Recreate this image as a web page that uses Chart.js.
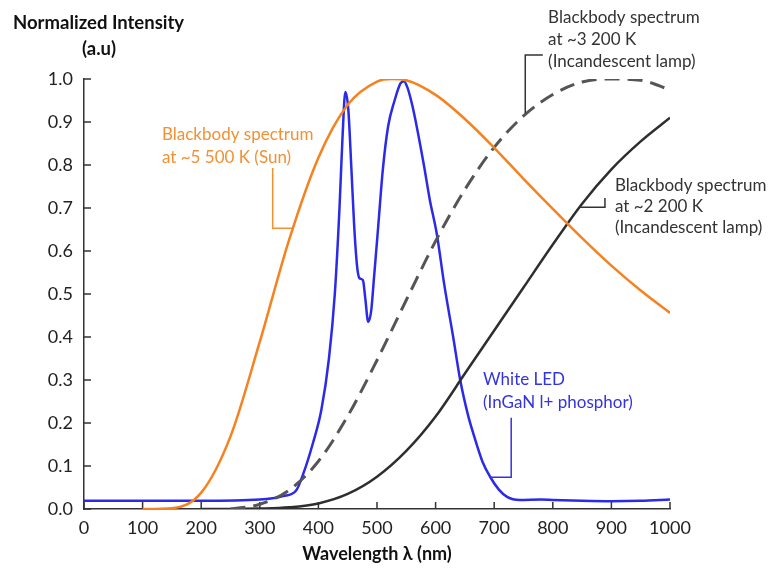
<!DOCTYPE html>
<html>
<head>
<meta charset="utf-8">
<script src="https://cdn.jsdelivr.net/npm/chart.js@4.4.1/dist/chart.umd.min.js"></script>
<style>
  html, body { margin: 0; padding: 0; background: #fff; }
  canvas { display: block; }
</style>
</head>
<body>
<canvas id="spectra" width="768" height="570"></canvas>
<script>
// wavelengths (nm) and normalized intensities for each source
var sunNm  = [100, 150, 200, 250, 300, 350, 400, 450, 500, 525, 550, 600, 650, 700, 750, 800, 850, 900, 950, 1000];
var sunVal = [0, 0.002, 0.038, 0.169, 0.389, 0.626, 0.817, 0.940, 0.994, 1.0, 0.997, 0.963, 0.907, 0.840, 0.768, 0.698, 0.630, 0.566, 0.508, 0.456];

var lamp3200Nm  = [250, 300, 350, 400, 450, 500, 550, 600, 650, 700, 750, 800, 850, 900, 950, 1000];
var lamp3200Val = [0, 0.011, 0.044, 0.111, 0.216, 0.346, 0.486, 0.623, 0.743, 0.841, 0.914, 0.964, 0.993, 1.0, 0.997, 0.975];

var lamp2200Nm  = [200, 250, 300, 350, 400, 450, 500, 550, 600, 650, 700, 750, 800, 850, 900, 950, 1000];
var lamp2200Val = [0, 0, 0.001, 0.004, 0.013, 0.035, 0.075, 0.135, 0.215, 0.315, 0.415, 0.515, 0.615, 0.71, 0.79, 0.855, 0.91];

var ledNm  = [0, 100, 200, 300, 340, 362, 375, 390, 405, 418, 428, 436, 441, 446, 451, 456, 461, 466, 470, 476, 480, 485, 490, 495, 502, 510, 519, 530, 540, 546, 552, 560, 568, 580, 590, 602, 615, 630, 642, 655, 664, 680, 693, 708, 722, 744, 780, 800, 850, 900, 950, 1000];
var ledVal = [0.019, 0.019, 0.019, 0.022, 0.03, 0.043, 0.085, 0.15, 0.23, 0.35, 0.5, 0.7, 0.86, 0.97, 0.93, 0.8, 0.66, 0.565, 0.537, 0.532, 0.49, 0.435, 0.46, 0.54, 0.656, 0.79, 0.89, 0.95, 0.99, 0.995, 0.98, 0.94, 0.888, 0.8, 0.72, 0.64, 0.52, 0.4, 0.3, 0.22, 0.177, 0.11, 0.075, 0.045, 0.028, 0.021, 0.022, 0.021, 0.019, 0.018, 0.019, 0.022];

var xTicks = [0, 100, 200, 300, 400, 500, 600, 700, 800, 900, 1000];
var yTicks = [0, 0.1, 0.2, 0.3, 0.4, 0.5, 0.6, 0.7, 0.8, 0.9, 1.0];

var ORANGE = '#f5821f';
var BLUE = '#2a2ae8';
var DARK = '#2e2e2e';
var GREY = '#555555';
var FONT = 'Lato, "Open Sans", sans-serif';

function points(xs, ys) {
  return xs.map(function(x, i) { return { x: x, y: ys[i] }; });
}

// callout texts and their leader lines, in axis units
var notes = [
  { lines: ['Blackbody spectrum', 'at ~5 500 K (Sun)'], color: '#f39032', at: [133, 0.870], step: 23,
    leader: [[322, 0.793], [322, 0.653], [355, 0.653]] },
  { lines: ['Blackbody spectrum', 'at ~3 200 K', '(Incandescent lamp)'], color: '#333', at: [792, 1.144], step: 22,
    leader: [[783, 1.056], [753, 1.056], [753, 0.921]] },
  { lines: ['Blackbody spectrum', 'at ~2 200 K', '(Incandescent lamp)'], color: '#333', at: [906, 0.753], step: 21,
    leader: [[846, 0.702], [889, 0.702], [889, 0.723]] },
  { lines: ['White LED', '(InGaN l+ phosphor)'], color: '#3333e0', at: [681, 0.30], step: 23,
    leader: [[729, 0.212], [729, 0.074], [693, 0.074]] }
];

var inwardTicks = {
  id: 'inwardTicks',
  beforeDatasetsDraw: function(chart) {
    var ctx = chart.ctx, xs = chart.scales.x, ys = chart.scales.y, a = chart.chartArea;
    ctx.save();
    ctx.strokeStyle = '#333';
    ctx.lineWidth = 1.5;
    ctx.beginPath();
    xs.ticks.forEach(function(t) {
      var px = xs.getPixelForValue(t.value);
      ctx.moveTo(px, a.bottom);
      ctx.lineTo(px, a.bottom - 7);
    });
    ys.ticks.forEach(function(t) {
      var py = ys.getPixelForValue(t.value);
      ctx.moveTo(a.left, py);
      ctx.lineTo(a.left + 7, py);
    });
    ctx.stroke();
    ctx.restore();
  }
};

var callouts = {
  id: 'callouts',
  afterDraw: function(chart) {
    var ctx = chart.ctx, xs = chart.scales.x, ys = chart.scales.y;
    ctx.save();

    // y axis caption sits above the axis, unrotated
    ctx.fillStyle = '#111';
    ctx.font = 'bold 18.5px ' + FONT;
    ctx.textBaseline = 'middle';
    ctx.textAlign = 'left';
    ctx.fillText('Normalized Intensity', 13, 23);
    ctx.textAlign = 'center';
    ctx.fillText('(a.u)', 99, 49);

    notes.forEach(function(n) {
      ctx.strokeStyle = n.color;
      ctx.lineWidth = 1.5;
      ctx.beginPath();
      n.leader.forEach(function(p, i) {
        var px = xs.getPixelForValue(p[0]), py = ys.getPixelForValue(p[1]);
        if (i === 0) ctx.moveTo(px, py); else ctx.lineTo(px, py);
      });
      ctx.stroke();

      ctx.fillStyle = n.color;
      ctx.font = '17px ' + FONT;
      ctx.textAlign = 'left';
      ctx.textBaseline = 'middle';
      var tx = xs.getPixelForValue(n.at[0]), ty = ys.getPixelForValue(n.at[1]);
      n.lines.forEach(function(line, i) {
        ctx.fillText(line, tx, ty + i * n.step);
      });
    });
    ctx.restore();
  }
};

new Chart(document.getElementById('spectra'), {
  type: 'scatter',
  data: {
    datasets: [
      { label: '5500 K', data: points(sunNm, sunVal), borderColor: ORANGE, borderWidth: 2.5 },
      { label: '3200 K', data: points(lamp3200Nm, lamp3200Val), borderColor: GREY, borderWidth: 3, borderDash: [15, 8] },
      { label: '2200 K', data: points(lamp2200Nm, lamp2200Val), borderColor: DARK, borderWidth: 2.5 },
      { label: 'White LED', data: points(ledNm, ledVal), borderColor: BLUE, borderWidth: 2.5 }
    ]
  },
  options: {
    responsive: false,
    animation: false,
    showLine: true,
    elements: {
      point: { radius: 0, hoverRadius: 0 },
      line: { cubicInterpolationMode: 'monotone', fill: false }
    },
    layout: { padding: { top: 79, right: 98, left: 0, bottom: 0 } },
    plugins: { legend: { display: false }, tooltip: { enabled: false } },
    scales: {
      x: {
        type: 'linear', min: 0, max: 1000,
        afterBuildTicks: function(s) { s.ticks = xTicks.map(function(v) { return { value: v }; }); },
        afterFit: function(s) { s.height = 61; },
        grid: { display: false, drawTicks: false },
        border: { display: true, color: '#333', width: 1.5 },
        ticks: { color: '#222', padding: 8, font: { family: FONT, size: 18 }, maxRotation: 0,
                 callback: function(v) { return String(v); } },
        title: { display: true, text: 'Wavelength λ (nm)', color: '#111', padding: { top: 0, bottom: 5 },
                 font: { family: FONT, size: 18, weight: 'bold' } }
      },
      y: {
        type: 'linear', min: 0, max: 1,
        afterBuildTicks: function(s) { s.ticks = yTicks.map(function(v) { return { value: v }; }); },
        afterFit: function(s) { s.width = 84; },
        grid: { display: false, drawTicks: false },
        border: { display: true, color: '#333', width: 1.5 },
        ticks: { color: '#222', padding: 11, font: { family: FONT, size: 18 },
                 callback: function(v) { return v.toFixed(1); } }
      }
    }
  },
  plugins: [inwardTicks, callouts]
});
</script>
</body>
</html>
